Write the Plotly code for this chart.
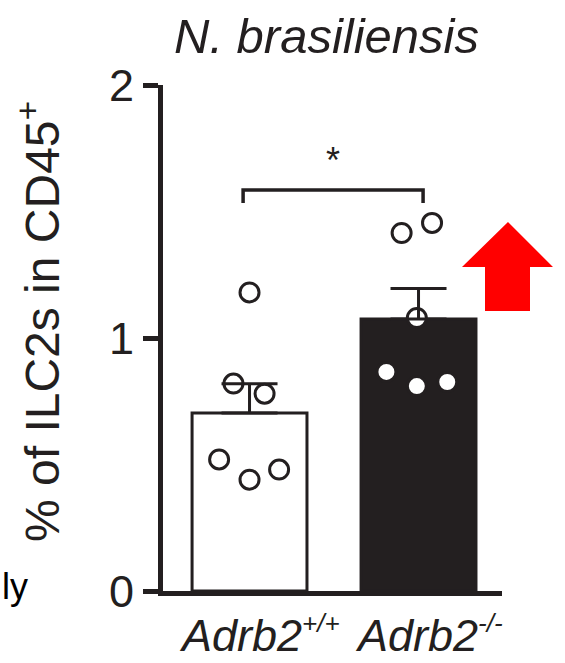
import plotly.graph_objects as go
import numpy as np

# ---- data ----
groups = ["Adrb2", "Adrb2"]
group_sup = ["+/+", "-/-"]
wt_values = [1.18, 0.82, 0.78, 0.52, 0.44, 0.48]
ko_values = [1.415, 1.455, 1.079, 0.866, 0.81, 0.826]
wt_jitter = [0.0, -0.095, 0.089, -0.18, 0.0, 0.175]
ko_jitter = [-0.10, 0.08, -0.01, -0.19, -0.01, 0.17]
y_ticks = [0, 1, 2]
title_text = "N. brasiliensis"
y_title = "% of ILC2s in CD45<sup>+</sup>"
sig_label = "*"

series = [wt_values, ko_values]
jitters = [wt_jitter, ko_jitter]
means = [float(np.mean(v)) for v in series]
sems = [float(np.std(v, ddof=1) / np.sqrt(len(v))) for v in series]
xpos = list(range(len(series)))

INK = "#231f20"
FONT = "Liberation Sans, Arial, Helvetica, sans-serif"

# plot-area geometry (pixels) used for paper-space decorations
W, H = 565, 663
L, R, T, B = 163, 502, 85, 591


def px(x):
    return (x - L) / (R - L)


def py(y):
    return (B - y) / (B - T)


fig = go.Figure()

fig.add_trace(go.Bar(
    x=xpos, y=means, width=0.68,
    marker=dict(color=["white", INK], line=dict(color=INK, width=3)),
    showlegend=False, hoverinfo="skip",
))

for i, (vals, jit) in enumerate(zip(series, jitters)):
    fig.add_trace(go.Scatter(
        x=[i + j for j in jit], y=vals, mode="markers",
        marker=dict(size=19, color="white", line=dict(color=INK, width=3)),
        showlegend=False, hoverinfo="skip", cliponaxis=False,
    ))

# SEM whiskers (upward only), drawn over the points
fig.add_trace(go.Scatter(
    x=xpos, y=means, mode="markers",
    marker=dict(size=1, color="rgba(0,0,0,0)"),
    error_y=dict(type="data", array=sems, arrayminus=[0, 0], symmetric=False,
                 color=INK, thickness=3, width=28),
    showlegend=False, hoverinfo="skip",
))

# significance bracket
by, bl = 1.585, 1.534
bx0, bx1 = -0.038, 1.027
fig.add_trace(go.Scatter(
    x=[bx0, bx0, bx1, bx1], y=[bl, by, by, bl], mode="lines",
    line=dict(color=INK, width=3.5),
    showlegend=False, hoverinfo="skip",
))

annotations = [
    dict(x=(bx0 + bx1) / 2, y=1.70, xref="x", yref="y", text=sig_label,
         yanchor="middle", showarrow=False,
         font=dict(size=36, color=INK, family=FONT)),
    dict(x=px(326.5), y=py(36), xref="paper", yref="paper",
         xanchor="center", yanchor="middle",
         text="<i>%s</i>" % title_text, showarrow=False,
         font=dict(size=49, color=INK, family=FONT)),
    dict(x=px(39), y=py(322), xref="paper", yref="paper", text=y_title,
         xanchor="center", yanchor="middle",
         textangle=-90, showarrow=False,
         font=dict(size=48, color=INK, family=FONT)),
    dict(x=px(0), y=py(586), xref="paper", yref="paper", text="ly",
         xanchor="left", yanchor="middle", showarrow=False,
         font=dict(size=36, color="black", family=FONT)),
]
for i, (g, s) in enumerate(zip(groups, group_sup)):
    annotations.append(dict(
        x=i, y=py(634), xref="x", yref="paper", xshift=10,
        xanchor="center", yanchor="middle",
        text="<i>%s<sup><span style='font-size:26px'>%s</span></sup></i>"
             % (g, s),
        showarrow=False,
        font=dict(size=45, color=INK, family=FONT),
    ))

# red up arrow
pts = [(508, 222), (553, 267), (530, 267), (530, 311), (485, 311),
       (485, 267), (462, 267)]
path = "M " + " L ".join("%f,%f" % (px(a), py(b)) for a, b in pts) + " Z"

fig.update_layout(
    width=W, height=H,
    margin=dict(l=L, r=W - R, t=T, b=H - B, pad=0),
    plot_bgcolor="white", paper_bgcolor="white",
    font=dict(family=FONT, color=INK),
    annotations=annotations,
    shapes=[dict(type="path", path=path, xref="paper", yref="paper",
                 fillcolor="#ff0000", line=dict(width=0))],
    xaxis=dict(range=[-0.512, 1.494], showticklabels=False, ticks="",
               showgrid=False, zeroline=False, showline=True,
               linecolor=INK, linewidth=5),
    yaxis=dict(range=[0, 2], tickvals=y_ticks, ticks="outside", ticklen=15,
               tickwidth=5, tickcolor=INK, showgrid=False, zeroline=False,
               showline=True, linecolor=INK, linewidth=5,
               tickfont=dict(size=45, color=INK, family=FONT)),
)

fig.write_html("out.html")
